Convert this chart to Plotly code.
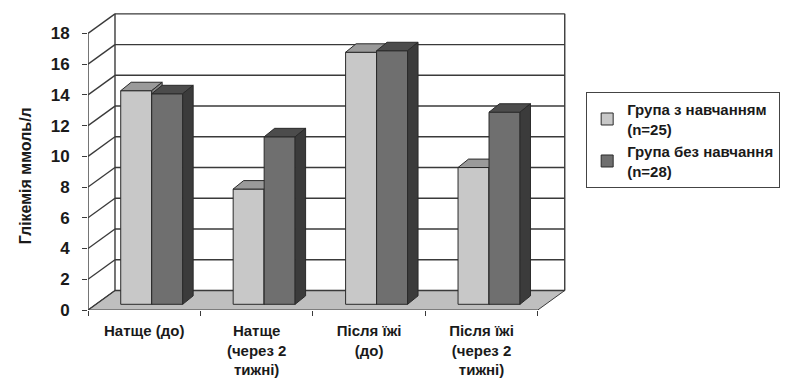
import plotly.graph_objects as go

# ---------------- data ----------------
categories = ["Натще (до)", "Натще<br>(через 2<br>тижні)", "Після їжі<br>(до)", "Після їжі<br>(через 2<br>тижні)"]
series_names = ["Група з навчанням<br>(n=25)", "Група без навчання<br>(n=28)"]
trained = [13.9, 7.5, 16.4, 8.9]
untrained = [13.7, 10.9, 16.5, 12.5]
y_ticks = [0, 2, 4, 6, 8, 10, 12, 14, 16, 18]
y_title = "Глікемія ммоль/л"

# ---------------- pseudo-3D geometry (axis units) ----------------
X_MIN, X_MAX = -0.5, 3.5          # front floor edge
DX, DY = 0.24, 1.27               # depth of the back wall
BDX, BDY = 0.093, 0.55            # depth of each column
BASE = 0.37                       # columns stand in the middle of the floor
BAR_W = 0.2756
OFF_LIGHT = -0.209
OFF_DARK = OFF_LIGHT + BAR_W
Y_TOP = 19.39
X_RANGE = [X_MIN, X_MAX + DX + 0.02]
EDGE = "#2a2a2a"
FONT = "Liberation Sans, Arial, sans-serif"

xs = list(range(len(categories)))


def faces(values, offset):
    top_x, top_y, side_x, side_y = [], [], [], []
    for x, v in zip(xs, values):
        x0 = x + offset
        x1 = x0 + BAR_W
        t = BASE + v
        top_x += [x0, x1, x1 + BDX, x0 + BDX, x0, None]
        top_y += [t, t, t + BDY, t + BDY, t, None]
        side_x += [x1, x1, x1 + BDX, x1 + BDX, x1, None]
        side_y += [BASE, t, t + BDY, BASE + BDY, BASE, None]
    return top_x, top_y, side_x, side_y


fig = go.Figure()

specs = [
    (trained, series_names[0], OFF_LIGHT, "#c8c8c8", "#9a9a9a", "#858585", "x", "y"),
    (untrained, series_names[1], OFF_DARK, "#6f6f6f", "#4c4c4c", "#3b3b3b", "x2", "y2"),
]
for vals, name, off, cf, ct, cs, xa, ya in specs:
    fig.add_trace(go.Bar(
        x=xs, y=vals, base=BASE, offset=off, width=BAR_W, name=name,
        marker=dict(color=cf, line=dict(color=EDGE, width=1)),
        xaxis=xa, yaxis=ya, legendgroup=name,
        hovertemplate="%{y}<extra></extra>",
    ))
    tx, ty, sx, sy = faces(vals, off)
    fig.add_trace(go.Scatter(x=tx, y=ty, fill="toself", fillcolor=ct, mode="lines",
                             line=dict(color=EDGE, width=1), showlegend=False,
                             hoverinfo="skip", xaxis=xa, yaxis=ya, legendgroup=name))
    fig.add_trace(go.Scatter(x=sx, y=sy, fill="toself", fillcolor=cs, mode="lines",
                             line=dict(color=EDGE, width=1), showlegend=False,
                             hoverinfo="skip", xaxis=xa, yaxis=ya, legendgroup=name))

# ---------------- walls, floor, axis lines ----------------
shapes = []
line_style = dict(color="#3a3a3a", width=1.4)
shapes.append(dict(
    type="path", xref="x", yref="y", layer="below",
    path=f"M {X_MIN},0 L {X_MAX},0 L {X_MAX + DX},{DY} L {X_MIN + DX},{DY} Z",
    fillcolor="#bfbfbf", line=dict(color="#3a3a3a", width=1),
))
for v in y_ticks:
    shapes.append(dict(type="line", xref="x", yref="y", layer="below",
                       x0=X_MIN + DX, x1=X_MAX + DX, y0=v + DY, y1=v + DY, line=line_style))
    shapes.append(dict(type="line", xref="x", yref="y", layer="below",
                       x0=X_MIN, x1=X_MIN + DX, y0=v, y1=v + DY, line=line_style))
for xv in (X_MIN + DX, X_MAX + DX):
    shapes.append(dict(type="line", xref="x", yref="y", layer="below",
                       x0=xv, x1=xv, y0=DY, y1=y_ticks[-1] + DY, line=line_style))
shapes.append(dict(type="line", xref="x", yref="y", layer="below",
                   x0=X_MIN, x1=X_MIN, y0=0, y1=y_ticks[-1], line=line_style))

fig.update_layout(
    width=786, height=378,
    margin=dict(l=88, r=219, t=12, b=68, autoexpand=False),
    paper_bgcolor="white", plot_bgcolor="white",
    font=dict(family=FONT, size=16, color="#1a1a1a", weight="bold"),
    barmode="overlay",
    shapes=shapes,
    showlegend=True,
    legend=dict(
        x=1.04, y=0.5705, xanchor="left", yanchor="middle",
        bordercolor="#444444", borderwidth=1, bgcolor="white",
        font=dict(family=FONT, size=15, color="#1a1a1a", weight="bold"),
        tracegroupgap=0, itemwidth=30,
    ),
    annotations=[dict(
        text=y_title, textangle=-90, xref="paper", yref="y",
        x=-0.1315, y=8.7, xanchor="center", yanchor="middle", showarrow=False,
        font=dict(family=FONT, size=16, color="#1a1a1a", weight="bold"),
    )],
    xaxis=dict(
        range=X_RANGE, tickvals=xs, ticktext=categories, ticks="",
        showgrid=False, zeroline=False, showline=False, fixedrange=True,
        tickfont=dict(size=15), ticklabelstandoff=10, automargin=False,
    ),
    yaxis=dict(
        range=[0, Y_TOP], tickvals=y_ticks, ticks="outside", ticklen=5,
        tickcolor="#3a3a3a", showgrid=False, zeroline=False, showline=False,
        fixedrange=True, tickfont=dict(size=17), ticklabelstandoff=9,
        automargin=False,
    ),
    xaxis2=dict(
        overlaying="x", anchor="y2", range=X_RANGE,
        tickvals=[X_MIN + i for i in range(len(categories) + 1)],
        showticklabels=False, ticks="outside", ticklen=5, tickcolor="#3a3a3a",
        showgrid=False, zeroline=False, showline=False, fixedrange=True,
        automargin=False,
    ),
    yaxis2=dict(overlaying="y", anchor="x2", range=[0, Y_TOP], visible=False,
                fixedrange=True, automargin=False),
)

fig.write_html("out.html")
